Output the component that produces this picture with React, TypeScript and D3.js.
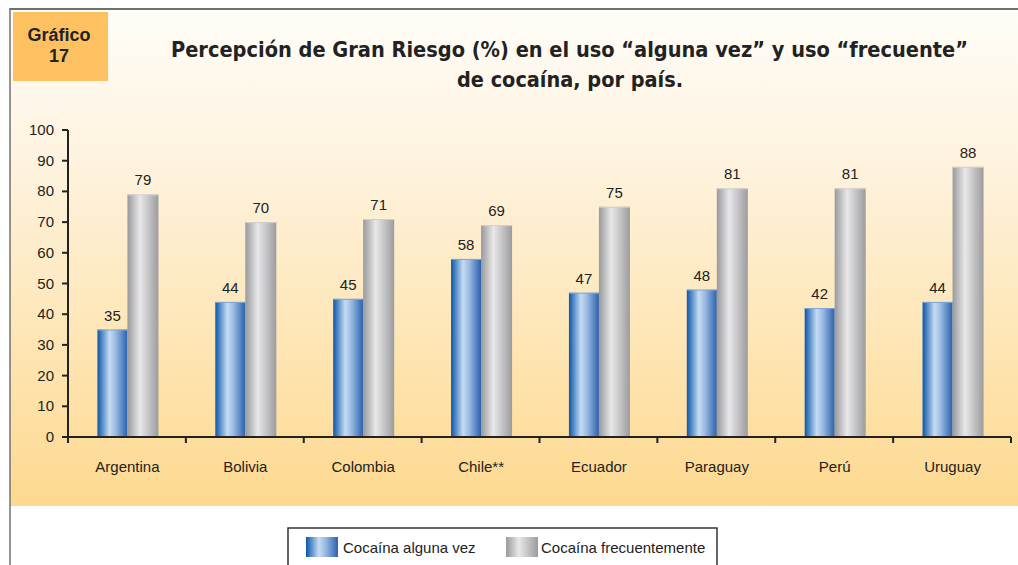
import React from 'react';
import * as d3 from 'd3';

const paises = ['Argentina', 'Bolivia', 'Colombia', 'Chile**', 'Ecuador', 'Paraguay', 'Perú', 'Uruguay'];
const algunaVez = [35, 44, 45, 58, 47, 48, 42, 44];
const frecuente = [79, 70, 71, 69, 75, 81, 81, 88];
const yTicks = [0, 10, 20, 30, 40, 50, 60, 70, 80, 90, 100];
const series = ['Cocaína alguna vez', 'Cocaína frecuentemente'];

const W = 1018;
const H = 565;
const margin = { top: 130, left: 68, right: 7, bottom: 128 };
const labelFont = 'Liberation Sans, Arial, sans-serif';
const titleFont = '"DejaVu Sans Condensed", "DejaVu Sans", sans-serif';

const App = () => {
  const x = d3.scaleBand().domain(paises).range([margin.left, W - margin.right]);
  const y = d3.scaleLinear().domain([0, 100]).range([H - margin.bottom, margin.top]);
  const blueW = 30;
  const grayW = 31;
  const y0 = y(0);

  return (
    <svg width={W} height={H} style={{ position: 'absolute', left: 0, top: 0 }}>
      <defs>
        <linearGradient id="bg" x1="0" y1="0" x2="0" y2="1">
          <stop offset="0" stopColor="#fffdf8" />
          <stop offset="0.3" stopColor="#fef3df" />
          <stop offset="1" stopColor="#fdd98f" />
        </linearGradient>
        <linearGradient id="blue" x1="0" y1="0" x2="1" y2="0">
          <stop offset="0" stopColor="#0a56aa" />
          <stop offset="0.4" stopColor="#c6dcf3" />
          <stop offset="0.6" stopColor="#9bbbe3" />
          <stop offset="1" stopColor="#2b61ae" />
        </linearGradient>
        <linearGradient id="gray" x1="0" y1="0" x2="1" y2="0">
          <stop offset="0" stopColor="#98999c" />
          <stop offset="0.4" stopColor="#e8e8e9" />
          <stop offset="1" stopColor="#9c9c9f" />
        </linearGradient>
      </defs>

      <rect x={0} y={0} width={W} height={H} fill="#ffffff" />
      <rect x={10} y={9} width={W - 10} height={497} fill="url(#bg)" />
      <line x1={10} y1={9} x2={W} y2={9} stroke="#707070" strokeWidth={2} />
      <line x1={10} y1={8} x2={10} y2={H} stroke="#707070" strokeWidth={1.5} />

      <rect x={13} y={12} width={95} height={69} fill="#fdc162" />
      <text x={59} y={41} textAnchor="middle" fontFamily={labelFont} fontWeight="bold" fontSize={18} fill="#222">Gráfico</text>
      <text x={59} y={62} textAnchor="middle" fontFamily={labelFont} fontWeight="bold" fontSize={18} fill="#222">17</text>

      <text x={171} y={57} textLength={797} lengthAdjust="spacingAndGlyphs" fontFamily={titleFont} fontWeight="bold" fontSize={22} fill="#222">
        Percepción de Gran Riesgo (%) en el uso “alguna vez” y uso “frecuente”
      </text>
      <text x={457} y={87} textLength={226} lengthAdjust="spacingAndGlyphs" fontFamily={titleFont} fontWeight="bold" fontSize={22} fill="#222">
        de cocaína, por país.
      </text>

      {/* y axis */}
      <line x1={margin.left} x2={margin.left} y1={y(100)} y2={y0} stroke="#222" strokeWidth={2} />
      {yTicks.map((t) => (
        <g key={t}>
          <line x1={margin.left - 6} x2={margin.left} y1={y(t)} y2={y(t)} stroke="#222" strokeWidth={2} />
          <text x={54} y={y(t) + 5} textAnchor="end" fontFamily={labelFont} fontSize={15} fill="#222">{t}</text>
        </g>
      ))}

      {/* bars */}
      {paises.map((p, i) => {
        const c = (x(p) as number) + x.bandwidth() / 2 + 0.5;
        return (
          <g key={p}>
            <rect x={c - blueW} y={y(algunaVez[i])} width={blueW} height={y0 - y(algunaVez[i])} fill="url(#blue)" />
            <line x1={c - blueW} x2={c} y1={y(algunaVez[i]) + 0.5} y2={y(algunaVez[i]) + 0.5} stroke="#7fa6d8" />
            <rect x={c} y={y(frecuente[i])} width={grayW} height={y0 - y(frecuente[i])} fill="url(#gray)" />
            <line x1={c} x2={c + grayW} y1={y(frecuente[i]) + 0.5} y2={y(frecuente[i]) + 0.5} stroke="#d0d0d0" />
            <text x={c - blueW / 2} y={y(algunaVez[i]) - 9} textAnchor="middle" fontFamily={labelFont} fontSize={15} fill="#222">{algunaVez[i]}</text>
            <text x={c + grayW / 2} y={y(frecuente[i]) - 9} textAnchor="middle" fontFamily={labelFont} fontSize={15} fill="#222">{frecuente[i]}</text>
            <text x={c} y={472} textAnchor="middle" fontFamily={labelFont} fontSize={15} fill="#222">{p}</text>
          </g>
        );
      })}

      {/* x axis */}
      <line x1={margin.left} x2={W - margin.right} y1={y0} y2={y0} stroke="#222" strokeWidth={2} />
      {paises.map((p) => (
        <line key={p} x1={(x(p) as number) + x.bandwidth()} x2={(x(p) as number) + x.bandwidth()} y1={y0} y2={y0 + 6} stroke="#222" strokeWidth={2} />
      ))}
      <line x1={margin.left} x2={margin.left} y1={y0} y2={y0 + 6} stroke="#222" strokeWidth={2} />

      {/* legend */}
      <rect x={288} y={528} width={429} height={45} fill="#fff" stroke="#333" strokeWidth={1.5} />
      <rect x={306} y={537} width={32} height={20} fill="url(#blue)" />
      <text x={343} y={553} fontFamily={labelFont} fontSize={15} fill="#222">{series[0]}</text>
      <rect x={506} y={537} width={32} height={20} fill="url(#gray)" />
      <text x={541} y={553} fontFamily={labelFont} fontSize={15} fill="#222">{series[1]}</text>
    </svg>
  );
};

export default App;
